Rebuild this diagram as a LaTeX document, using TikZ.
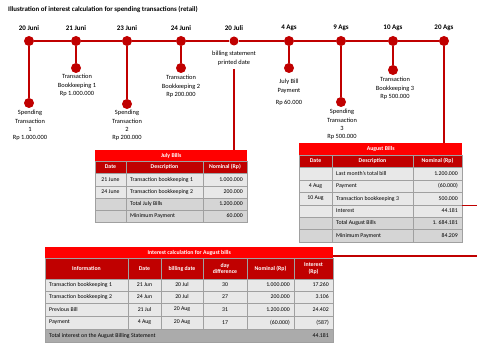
\documentclass[tikz,border=0pt]{standalone}
\usepackage{fontspec}
\setmainfont{Carlito}
\definecolor{dred}{HTML}{C00000}
\definecolor{bred}{HTML}{FF0000}
\definecolor{lg}{HTML}{E8E8E8}
\definecolor{mg}{HTML}{D5D5D5}
\definecolor{dg}{HTML}{ABABAB}
\definecolor{bd}{HTML}{A0A0A0}
\newcommand\cellH[5]{\filldraw[fill=dred,draw=bd,line width=0.5pt] (#1,#2) rectangle (#3,#4); \node[cell,text=white,font=\fontsize{5.8}{6.6}\selectfont\bfseries] at ({(#1+#3)/2},{(#2+#4)/2}) {#5};}
\newcommand\cellC[6]{\filldraw[fill=#5,draw=bd,line width=0.5pt] (#1,#2) rectangle (#3,#4); \node[cell] at ({(#1+#3)/2},{(#2+#4)/2}) {#6};}
\newcommand\cellL[6]{\filldraw[fill=#5,draw=bd,line width=0.5pt] (#1,#2) rectangle (#3,#4); \node[cell,anchor=west] at ({#1+4},{(#2+#4)/2}) {#6};}
\newcommand\cellR[6]{\filldraw[fill=#5,draw=bd,line width=0.5pt] (#1,#2) rectangle (#3,#4); \node[cell,anchor=east] at ({#3-4},{(#2+#4)/2}) {#6};}
\begin{document}
\begin{tikzpicture}[x=1pt,y=-1pt,
  tline/.style={draw=dred,line width=1.8pt},
  conn/.style={draw=dred,line width=1.3pt},
  dot/.style={circle,fill=dred,inner sep=0pt,minimum size=10pt},
  datelbl/.style={font=\fontsize{7}{8}\selectfont\bfseries,inner sep=0pt},
  lbl/.style={font=\fontsize{6.4}{8.4}\selectfont,align=center,inner sep=0pt,anchor=north},
  cell/.style={font=\fontsize{5.8}{6.6}\selectfont,align=center,inner sep=0pt},
  ttl/.style={fill=bred,inner sep=0pt,anchor=north west,font=\fontsize{5.8}{6.6}\selectfont\bfseries,text=white}]
\useasboundingbox (0,0) rectangle (477,344);
\node[anchor=west,inner sep=0pt,font=\fontsize{6.9}{8}\selectfont\bfseries] (title) at (8,10) {Illustration of interest calculation for spending transactions (retail)};

% timeline
\node[dot] (t1) at (29,41) {};
\node[dot] (t2) at (76,41) {};
\node[dot] (t3) at (127,41) {};
\node[dot] (t4) at (181,41) {};
\node[dot,minimum size=9pt] (t5) at (234,41) {};
\node[dot] (t6) at (289,41) {};
\node[dot] (t7) at (341,41) {};
\node[dot] (t8) at (393,41) {};
\node[dot] (t9) at (444,41) {};
\draw[tline] (t1) -- (t2) -- (t3) -- (t4) -- (t5) -- (t6) -- (t7) -- (t8) -- (t9);

\node[datelbl] (dl1) at (29,28) {20 Juni};
\node[datelbl] (dl2) at (76,28) {21 Juni};
\node[datelbl] (dl3) at (127,28) {23 Juni};
\node[datelbl] (dl4) at (181,28) {24 Juni};
\node[datelbl] (dl5) at (234,28) {20 Juli};
\node[datelbl] (dl6) at (289,28) {4 Ags};
\node[datelbl] (dl7) at (341,28) {9 Ags};
\node[datelbl] (dl8) at (393,28) {10 Ags};
\node[datelbl] (dl9) at (444,28) {20 Ags};

\node[dot] (b1) at (29,103) {};
\node[dot] (b2) at (76,68) {};
\node[dot] (b3) at (127,104) {};
\node[dot] (b4) at (181,68) {};
\node[dot] (b6) at (289,68) {};
\node[dot] (b7) at (341,102) {};
\node[dot] (b8) at (393,70) {};
\draw[tline] (t1) -- (b1);
\draw[tline] (t2) -- (b2);
\draw[tline] (t3) -- (b3);
\draw[tline] (t4) -- (b4);
\draw[tline] (t6) -- (b6);
\draw[tline] (t7) -- (b7);
\draw[tline] (t8) -- (b8);

\node[lbl] (l1) at (30,110) {Spending\\Transaction\\1\\Rp 1.000.000};
\node[lbl] (l2) at (77,74) {Transaction\\Bookkeeping 1\\Rp 1.000.000};
\node[lbl] (l3) at (127,110) {Spending\\Transaction\\2\\Rp 200.000};
\node[lbl] (l4) at (181,75) {Transaction\\Bookkeeping 2\\Rp 200.000};
\node[lbl] (l5) at (234,51) {billing statement\\printed date};
\node[lbl] (l6) at (289,79) {July Bill\\Payment\\[4.5pt]Rp 60.000};
\node[lbl] (l7) at (342,109) {Spending\\Transaction\\3\\Rp 500.000};
\node[lbl] (l8) at (395,77) {Transaction\\Bookkeeping 3\\Rp 500.000};

% July Bills table
\node[ttl,minimum width=152pt,minimum height=11pt] (jt) at (95,150) {July Bills};
\cellH{95}{161}{126}{173}{Date}
\cellH{126}{161}{203}{173}{Description}
\cellH{203}{161}{247}{173}{Nominal (Rp)}
\cellC{95}{173}{126}{186}{lg}{21 June}
\cellL{126}{173}{203}{186}{lg}{Transaction bookkeeping 1}
\cellR{203}{173}{247}{186}{lg}{1.000.000}
\cellC{95}{186}{126}{198}{lg}{24 June}
\cellL{126}{186}{203}{198}{lg}{Transaction bookkeeping 2}
\cellR{203}{186}{247}{198}{lg}{200.000}
\cellC{95}{198}{126}{210}{mg}{}
\cellL{126}{198}{203}{210}{mg}{Total July Bills}
\cellR{203}{198}{247}{210}{mg}{1.200.000}
\cellC{95}{210}{126}{222}{mg}{}
\cellL{126}{210}{203}{222}{mg}{Minimum Payment}
\cellR{203}{210}{247}{222}{mg}{60.000}
\coordinate (jl) at (234,69);
\draw[conn] (jl) -- (jl |- jt.north);

% August Bills table
\node[ttl,minimum width=163pt,minimum height=12pt] (at) at (299,143) {August Bills};
\cellH{299}{155}{332}{167}{Date}
\cellH{332}{155}{413}{167}{Description}
\cellH{413}{155}{462}{167}{Nominal (Rp)}
\cellC{299}{167}{332}{180}{lg}{}
\cellL{332}{167}{413}{180}{lg}{Last month's total bill}
\cellR{413}{167}{462}{180}{lg}{1.200.000}
\cellC{299}{180}{332}{192}{lg}{4 Aug}
\cellL{332}{180}{413}{192}{lg}{Payment}
\cellR{413}{180}{462}{192}{lg}{(60.000)}
\cellC{299}{192}{332}{205}{lg}{10 Aug}
\cellL{332}{192}{413}{205}{lg}{Transaction bookkeeping 3}
\cellR{413}{192}{462}{205}{lg}{500.000}
\cellC{299}{205}{332}{217}{lg}{}
\cellL{332}{205}{413}{217}{lg}{Interest}
\cellR{413}{205}{462}{217}{lg}{44.181}
\cellC{299}{217}{332}{229}{mg}{}
\cellL{332}{217}{413}{229}{mg}{Total August Bills}
\cellR{413}{217}{462}{229}{mg}{1. 684.181}
\cellC{299}{229}{332}{242}{mg}{}
\cellL{332}{229}{413}{242}{mg}{Minimum Payment}
\cellR{413}{229}{462}{242}{mg}{84.209}
\draw[conn] (t9) -- (t9 |- at.north);
\coordinate (aIs) at (462,205.5);
\coordinate (aIe) at (477,205.5);
\draw[conn] (aIs) -- (aIe);

% Interest calculation table
\node[ttl,minimum width=288pt,minimum height=11pt] (it) at (45,247) {Interest calculation for August bills};
\cellH{45}{258}{128}{279}{Information}
\cellH{128}{258}{161}{279}{Date}
\cellH{161}{258}{203}{279}{billing date}
\cellH{203}{258}{247}{279}{day\\difference}
\cellH{247}{258}{294}{279}{Nominal (Rp)}
\cellH{294}{258}{333}{279}{Interest\\(Rp)}
\cellL{45}{279}{128}{291}{lg}{Transaction bookkeeping 1}
\cellC{128}{279}{161}{291}{lg}{21 Jun}
\cellC{161}{279}{203}{291}{lg}{20 Jul}
\cellC{203}{279}{247}{291}{lg}{30}
\cellR{247}{279}{294}{291}{lg}{1.000.000}
\cellR{294}{279}{333}{291}{lg}{17.260}
\cellL{45}{291}{128}{303}{lg}{Transaction bookkeeping 2}
\cellC{128}{291}{161}{303}{lg}{24 Jun}
\cellC{161}{291}{203}{303}{lg}{20 Jul}
\cellC{203}{291}{247}{303}{lg}{27}
\cellR{247}{291}{294}{303}{lg}{200.000}
\cellR{294}{291}{333}{303}{lg}{3.106}
\cellL{45}{303}{128}{316}{lg}{Previous Bill}
\cellC{128}{303}{161}{316}{lg}{21 Jul}
\cellC{161}{303}{203}{316}{lg}{20 Aug}
\cellC{203}{303}{247}{316}{lg}{31}
\cellR{247}{303}{294}{316}{lg}{1.200.000}
\cellR{294}{303}{333}{316}{lg}{24.402}
\cellL{45}{316}{128}{329}{lg}{Payment}
\cellC{128}{316}{161}{329}{lg}{4 Aug}
\cellC{161}{316}{203}{329}{lg}{20 Aug}
\cellC{203}{316}{247}{329}{lg}{17}
\cellR{247}{316}{294}{329}{lg}{(60.000)}
\cellR{294}{316}{333}{329}{lg}{(587)}
\cellL{45}{329}{333}{342}{dg}{Total interest on the August Billing Statement}
\node[cell,anchor=east] (tot) at (329,335.5) {44.181};
\coordinate (iTs) at (333,256);
\coordinate (iTe) at (477,256);
\draw[conn] (iTs) -- (iTe);
\end{tikzpicture}
\end{document}
